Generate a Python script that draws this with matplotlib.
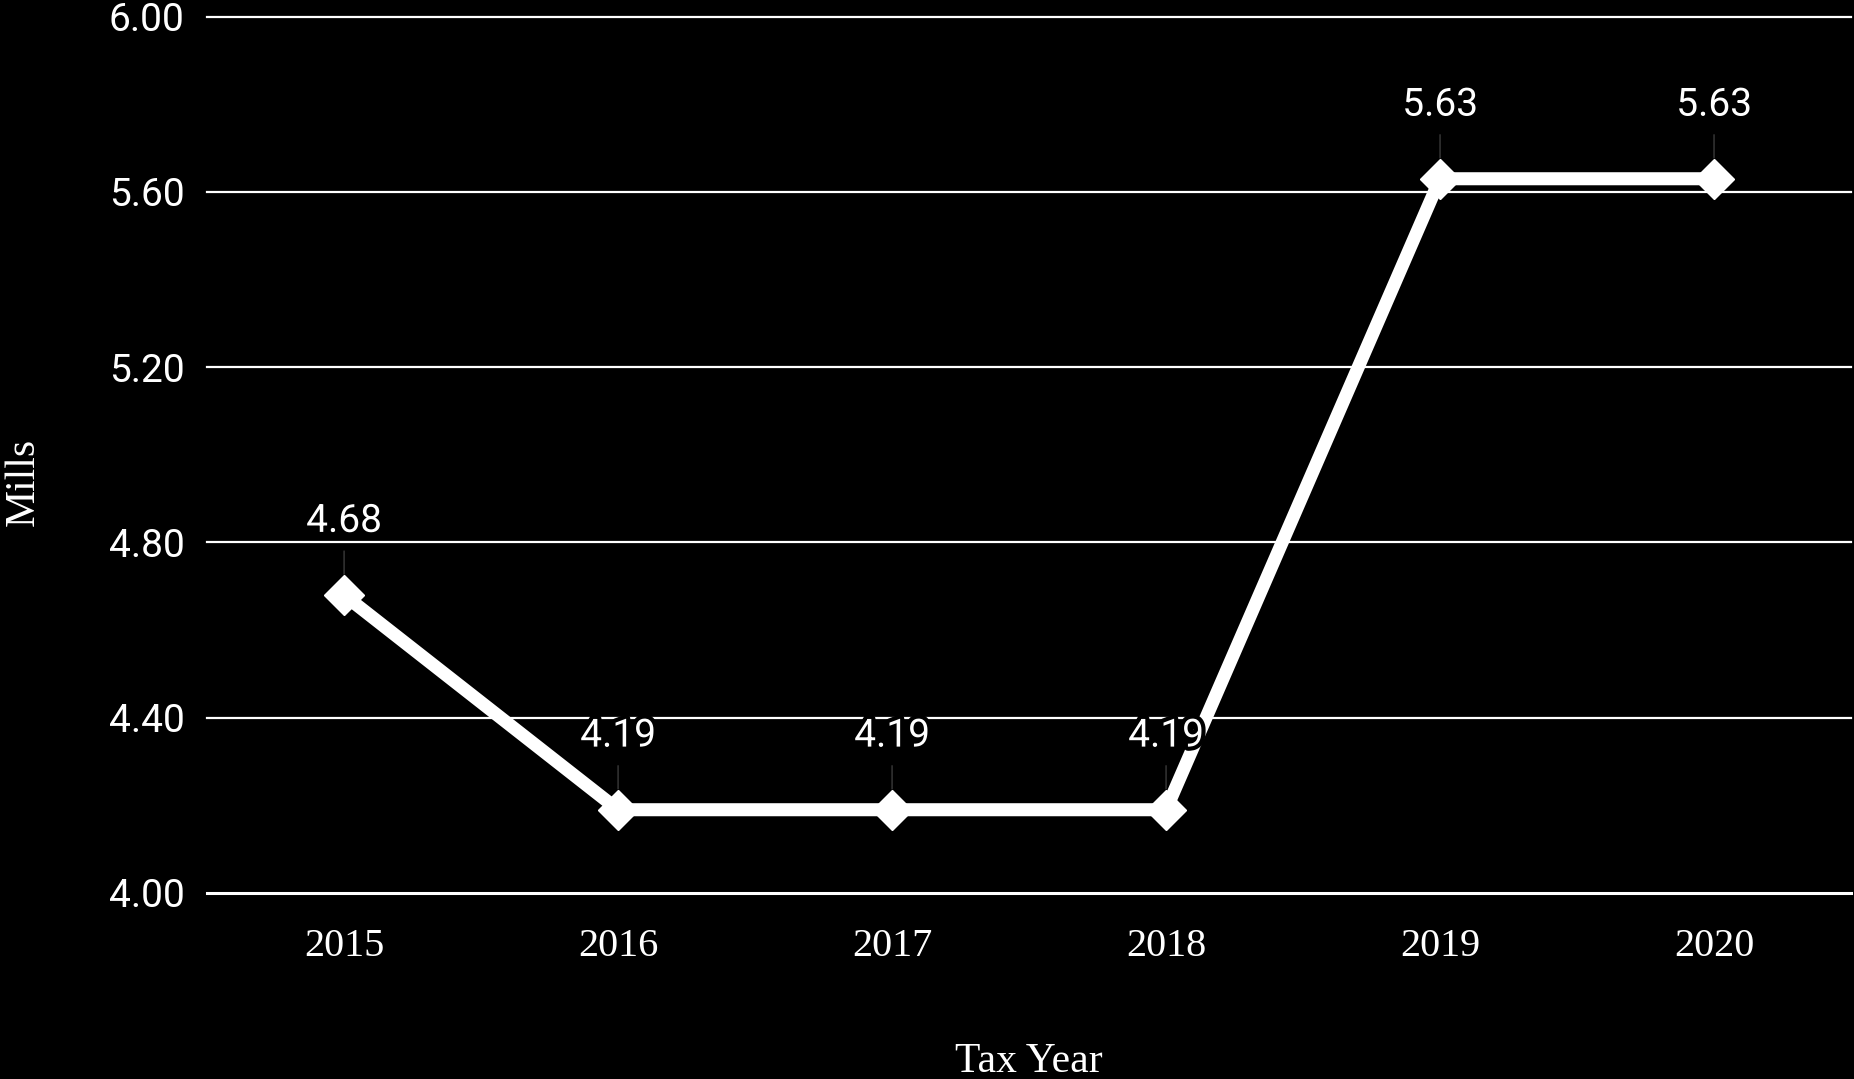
import matplotlib
matplotlib.use("Agg")
import matplotlib.pyplot as plt
import matplotlib.patheffects as pe

years = ["2015", "2016", "2017", "2018", "2019", "2020"]
mills = [4.68, 4.19, 4.19, 4.19, 5.63, 5.63]
y_ticks = [4.00, 4.40, 4.80, 5.20, 5.60, 6.00]

fig = plt.figure(figsize=(18.54, 10.79), dpi=100, facecolor="black")
ax = fig.add_axes([0.1117, 0.1724, 0.8867, 0.8122])
ax.set_facecolor("black")

x = list(range(len(years)))
ax.plot(x, mills, color="white", lw=9.4, marker="D", markersize=20.5,
        markerfacecolor="white", markeredgecolor="white", zorder=3,
        solid_joinstyle="miter")

halo = [pe.withStroke(linewidth=6, foreground="black")]
for xi, v in zip(x, mills):
    t = ax.annotate(f"{v:.2f}", (xi, v), xytext=(0, 53), textcoords="offset points",
                    ha="center", va="center", color="white", fontsize=28,
                    family="Roboto", zorder=5, annotation_clip=False,
                    arrowprops=dict(arrowstyle="-", color="#3a3a3a", lw=1,
                                    shrinkA=6, shrinkB=15))
    t.set_path_effects(halo)

ax.set_xlim(-0.5, len(years) - 0.5)
ax.set_ylim(4.0, 6.0)
ax.set_yticks(y_ticks)
ax.set_yticklabels([f"{v:.2f}" for v in y_ticks], family="Roboto", fontsize=28, color="white")
ax.set_xticks(x)
ax.set_xticklabels(years, family="Liberation Serif", fontsize=29, color="white")
ax.tick_params(axis="both", length=0)
ax.tick_params(axis="y", pad=16)
ax.tick_params(axis="x", pad=25)

for v in y_ticks:
    ax.axhline(v, color="white", lw=2.2 if v == 4.0 else 1.6, zorder=1, clip_on=False)
for s in ax.spines.values():
    s.set_visible(False)

fig.text(0.555, 0.016, "Tax Year", ha="center", va="center", color="white",
         family="Liberation Serif", fontsize=30)
fig.text(0.0125, 0.553, "Mills", ha="center", va="center", rotation=90, color="white",
         family="Liberation Serif", fontsize=30)

fig.savefig("out.png", dpi=100, facecolor="black")
